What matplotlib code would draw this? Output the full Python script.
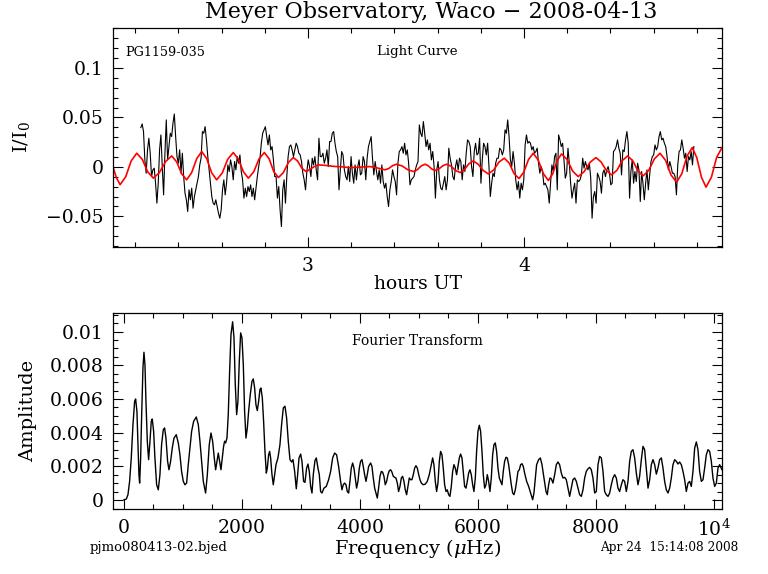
import matplotlib
matplotlib.use("Agg")
import matplotlib.pyplot as plt
import numpy as np
from matplotlib.ticker import MultipleLocator, FixedLocator, FixedFormatter

plt.rcParams['mathtext.fontset'] = 'dejavuserif'

# light curve: relative intensity in units of 1e-3, one point per exposure
obs_start = 2.226     # hours UT
cadence = 0.0062      # hours
lc_part1 = [39.7, 43.4, 35.7, 7.1, -6.4, 17.2, 29.0, 13.8, -9.8, -3.0,
            -1.3, -16.5, -36.7, -16.5, 17.2, 32.3, 0.3, -28.3, 13.8, 47.5,
            7.1, 20.5, 34.0, 30.6, 44.1, 53.5, 30.6, 10.4,
            3.7, 17.2, -6.4, 13.8, -9.8, -26.6, -33.3, -45.1, -23.2, -33.3,
            -21.5, -41.8, -30.0, -23.2, -16.5, -9.8, 2.0, 8.8, 35.7, 34.0,
            40.7, 27.3, 10.4, -3.0, -16.5, -30.0, -36.7, -38.4, -33.3, -40.1,
            -46.8, -51.9, -43.4, -23.2, -13.1, -28.3, -16.5, 2.0, -4.7, 7.1,
            0.3, -13.1, 5.4, -3.0, 10.4, 3.7, 12.1, -4.7, -13.1, -31.6,
            -21.5, -30.0, -19.9, -24.9, -18.2, -30.0, -21.5, -33.3, -21.5,
            -9.8, 0.3, 8.8, 23.9, 34.0, 37.4, 40.7, 30.6, 22.2, 32.3,
            17.2, 20.5, 7.1, -9.8]
lc_part2 = [-9.8, -31.6, -19.9, -43.4, -60.3, -23.2, -13.1, -36.7, -9.8, 10.4,
            20.5, 22.2, 17.2, 10.4, 17.2, 23.9, 20.5, 13.8, 12.1, 5.4,
            -6.4, -13.1, -23.2, -4.7, 7.1, 0.3, -9.8, 8.8, 2.0, 10.4,
            -3.0, -13.1, 29.0, 10.4, 10.4, 13.8, 3.7, 8.8, 17.2, 0.3,
            25.6, 25.6, 34.0, 35.7, 23.9, 15.5, 10.4, -23.2, -3.0, 15.5,
            12.1, -3.0, -9.8, -13.1, 0.3, -14.8, 10.4, -6.4, -16.5, 2.0,
            -13.1, 0.3, 7.1, -8.1, -6.4, 10.4, 5.4, -13.1, 8.8, 20.5,
            25.6, 30.6, 8.8, -8.1, 5.4, -4.7, -13.1, -3.0, -16.5, 2.0,
            -14.8, -21.5, -16.5, -30.0, -40.1, -23.2, -14.8, -3.0, -9.8, -14.8,
            -28.3, 3.7, 15.5, 17.2, 20.5, 13.8, 23.9, 12.1, 17.2, 3.7,
            -18.2, -13.1, -11.4, -9.8, -3.0, 2.0, 5.4, 42.4, 34.0]
lc_part3 = [30.6, 45.8, 34.0, 20.5, 27.3, 17.2, 23.9, 7.1, 15.5, 0.3,
            -31.6, -3.0, 5.4, -13.1, -21.5, -23.2, -16.5, -9.8, -23.2, -13.1,
            18.9, 8.8, 2.0, -9.8, -13.1, 0.3, 7.1, -3.0, 8.8, 5.4,
            -13.1, 2.0, -4.7, 13.8, 27.3, 25.6, 20.5, 0.3, -9.8, 15.5,
            23.9, 12.1, 13.8, 29.0, -16.5, 7.1, 23.9, 20.5, 12.1, 23.9,
            0.3, -30.0, -16.5, -6.4, -9.8, 3.7, 8.8, 8.8, 18.9, 17.2,
            12.1, 17.2, 37.4, 34.0, 47.5, 30.6, 7.1, 0.3, 15.5, 3.7,
            -13.1, -23.2, -14.8, -31.6, -16.5, -23.2, -13.1, 22.2, 32.3, 23.9,
            25.6, 23.9, 17.2, 20.5, 13.8, 15.5, 18.9, 3.7, -6.4, 0.3,
            -4.7, -18.2, -16.5, -19.9, -23.2, -36.7, -16.5, 2.0, -4.7, 10.4,
            13.8, -23.2, 32.3, 27.3, 20.5, 23.9, 7.1, -11.4]
lc_part4 = [-6.4, 18.9, 3.7, -16.5, -31.6, -23.2, -16.5, -36.7, -13.1, -14.8,
            -13.1, -8.1, 8.8, -1.3, 5.4, 0.3, -3.0, 3.7, -11.4, -51.9,
            -30.0, -24.9, -36.7, -6.4, -9.8, -14.8, -26.6, -6.4, -3.0, -9.8,
            -3.0, 0.3, -6.4, -18.2, -16.5, 15.5, 17.2, 20.5, 27.3, 18.9,
            13.8, -8.1, 17.2, 15.5, 27.3, 35.7, 23.9, -31.6, -4.7, 7.1,
            -16.5, -4.7, -14.8, 3.7, -3.0, -35.0, -4.7, -16.5, -33.3, -16.5,
            -3.0, -23.2, -8.1, 5.4, 10.4, 12.1, 22.2, 17.2, 20.5, 30.6,
            35.7, 27.3, 29.0, 23.9, 20.5, 10.4, -3.0, 5.4, 0.3, -6.4,
            -6.4, -9.8, -28.3, 2.0, 15.5, 17.2, 27.3, 18.9, 8.8, 13.8,
            -4.7, 10.4, 7.1, 15.5, 2.0, 20.5]

# multi-periodic fit, sampled (hours UT, 1e-3)
fit_time = [2.097, 2.113, 2.130, 2.156, 2.181, 2.207, 2.233, 2.258, 2.284, 2.312,
            2.341, 2.369, 2.392, 2.415, 2.438, 2.461, 2.485, 2.508, 2.531, 2.554,
            2.577, 2.603, 2.628, 2.654, 2.677, 2.701, 2.724, 2.749, 2.773, 2.798,
            2.820, 2.841, 2.863, 2.886, 2.909, 2.932, 2.952, 2.971, 2.991, 3.010,
            3.029, 3.048, 3.080, 3.120, 3.160, 3.194, 3.240, 3.287, 3.320, 3.356,
            3.374, 3.392, 3.410, 3.436, 3.462, 3.488, 3.506, 3.524, 3.542, 3.557,
            3.573, 3.588, 3.606, 3.624, 3.642, 3.663, 3.683, 3.704, 3.724, 3.745,
            3.765, 3.788, 3.812, 3.835, 3.860, 3.884, 3.909, 3.932, 3.954, 3.977,
            3.999, 4.021, 4.043, 4.066, 4.090, 4.113, 4.133, 4.154, 4.174, 4.200,
            4.225, 4.251, 4.278, 4.306, 4.333, 4.357, 4.382, 4.406, 4.431, 4.455,
            4.480, 4.504, 4.528, 4.552, 4.578, 4.604, 4.630, 4.656, 4.681, 4.707,
            4.731, 4.755, 4.779, 4.800, 4.822, 4.843, 4.868, 4.892, 4.917]
fit_milli = [0.0, -11.0, -18.0, -10.0, 5.9, 13.8, 7.5, -5.1, -11.4, -5.8,
             5.5, 11.1, 5.0, -7.0, -13.1, -6.0, 8.4, 15.5, 8.4, -6.0,
             -13.1, -6.2, 7.6, 14.5, 8.0, -4.9, -11.4, -4.9, 8.0, 14.5,
             8.2, -4.5, -10.8, -5.8, 4.4, 9.4, 5.9, -1.2, -4.7, -2.5,
             0.3, 2.0, 1.5, 0.5, 0.0, -0.8, -0.3, 0.3, -1.0, -3.0,
             -1.6, 1.3, 2.7, 0.9, -2.9, -4.7, -2.9, 0.9, 2.7, 1.1,
             -2.1, -3.7, -2.1, 1.1, 2.7, 0.6, -3.6, -5.7, -2.8, 3.1,
             6.0, 2.7, -3.8, -7.1, -3.1, 4.8, 8.8, 3.7, -6.7, -11.8,
             -5.4, 7.4, 13.8, 6.9, -6.9, -13.8, -7.1, 6.4, 13.1, 7.4,
             -4.1, -9.8, -5.0, 4.6, 9.4, 5.0, -3.7, -8.1, -3.3, 6.3,
             11.1, 6.1, -4.1, -9.1, -3.4, 8.1, 13.8, 6.5, -8.2, -15.5,
             -6.8, 10.8, 19.5, 9.5, -10.5, -20.5, -10.5, 9.5, 19.5]

# amplitude spectrum: frequency (muHz), amplitude (1e-3)
ft_freq = [0, 40, 68, 96, 124, 153, 181, 198, 220, 237,
           254, 266, 283, 299, 322, 339, 356, 373, 396, 418,
           441, 463, 480, 503, 525, 554, 582, 610, 638, 667,
           689, 712, 740, 763, 791, 819, 848, 887, 921, 949,
           977, 1006, 1034, 1062, 1090, 1119, 1147, 1181, 1226, 1260,
           1288, 1316, 1345, 1384, 1413, 1446, 1475, 1503, 1531, 1554,
           1576, 1599, 1622, 1644, 1667, 1689, 1706, 1723, 1746, 1768,
           1791, 1814, 1842, 1865, 1887, 1910, 1932, 1955, 1978, 2000,
           2023, 2045, 2068, 2091, 2113, 2141, 2170, 2192, 2215, 2237,
           2260, 2283, 2305, 2322, 2345, 2367, 2390, 2413, 2430, 2452,
           2469, 2486, 2509, 2531, 2554, 2577, 2610, 2644, 2672, 2701,
           2729, 2757, 2785, 2814, 2842, 2865, 2893, 2921, 2944, 2967,
           2995, 3017, 3045, 3068, 3096, 3119, 3141, 3164, 3187, 3209,
           3237, 3260, 3288,
           3311, 3333, 3356, 3390, 3429, 3469, 3503, 3537, 3571, 3604,
           3638, 3672, 3695, 3717, 3740, 3763, 3785, 3808, 3830, 3853,
           3876, 3898, 3921, 3943, 3966, 3989, 4011, 4034, 4056, 4079,
           4102, 4124, 4147, 4181, 4203, 4226, 4249, 4271, 4294, 4316,
           4339, 4362, 4384, 4407, 4429, 4452, 4475, 4497, 4520, 4542,
           4565, 4588, 4610, 4633, 4655, 4678, 4701, 4723, 4746, 4768,
           4791, 4814, 4836, 4859, 4881, 4904, 4927, 4949, 4972, 4994,
           5017, 5040, 5073, 5107, 5141, 5175, 5209, 5232, 5254, 5277,
           5299, 5322, 5345, 5367, 5390, 5412, 5435, 5458, 5480, 5503,
           5525, 5548, 5571, 5593, 5616, 5638, 5661, 5684, 5706, 5729,
           5751, 5774, 5797, 5819, 5842, 5864, 5887, 5910, 5932, 5955,
           5977, 6000, 6023, 6045, 6068, 6090, 6113, 6136, 6158, 6181,
           6203, 6226, 6249, 6271, 6294, 6316, 6339, 6362, 6384, 6407,
           6429, 6452, 6475, 6497, 6520, 6542, 6565, 6588, 6610, 6633,
           6655, 6678,
           6701, 6723, 6746, 6768, 6791, 6825, 6859, 6893, 6927, 6949,
           6972, 6994, 7028, 7057, 7085, 7119, 7153, 7175, 7198, 7220,
           7243, 7271, 7300, 7328, 7356, 7384, 7413, 7441, 7469, 7497,
           7526, 7554, 7582, 7610, 7639, 7667, 7695, 7723, 7752, 7780,
           7808, 7836, 7865, 7893, 7921, 7949, 7978, 8006, 8034, 8062,
           8091, 8119, 8147, 8175, 8204, 8232, 8260, 8288, 8317, 8345,
           8373, 8401, 8430, 8458, 8486, 8514, 8543, 8571, 8599, 8627,
           8656, 8684, 8712, 8740, 8769, 8797, 8825, 8853, 8882, 8910,
           8938, 8966, 8995, 9023, 9051, 9079, 9108, 9136, 9164, 9192,
           9221, 9249, 9277, 9305, 9334, 9362, 9390, 9418, 9447, 9475,
           9503, 9531, 9560, 9588, 9616, 9644, 9673, 9701, 9729, 9757,
           9786, 9814, 9842, 9870, 9899, 9927, 9955, 9983, 10012, 10040,
           10068, 10096, 10136]
ft_amp = [0.02, 0.06, 0.32, 1.11, 2.50, 4.48, 5.86, 6.00, 5.27, 3.29,
          1.51, 1.01, 2.50, 4.87, 7.84, 8.77, 8.04, 5.86, 3.49, 2.40,
          3.49, 4.67, 4.81, 4.08, 2.50, 0.91, 0.61, 1.51, 3.29, 4.18,
          4.28, 3.68, 2.30, 1.80, 2.30, 3.09, 3.68, 3.88, 3.39, 2.69,
          1.70, 1.11, 0.91, 1.01, 2.10, 3.09, 4.08, 4.67, 4.93, 4.48,
          3.49, 2.30, 1.11, 0.42, 1.51, 3.29, 3.98, 3.49, 2.50, 1.80,
          2.30, 2.79, 2.30, 1.80, 2.50, 3.19, 3.49, 3.39, 3.68, 5.07,
          7.65, 9.82, 10.58, 9.63, 6.85, 5.07, 5.86, 8.24, 9.92, 9.63,
          8.04, 5.27, 3.68, 4.28, 5.27, 6.26, 7.05, 7.19, 6.65, 5.66,
          5.31, 5.86, 6.56, 6.65, 6.06, 4.67, 2.89, 1.60, 1.90, 2.69,
          2.89, 2.50, 1.51, 0.91, 1.51, 2.10, 2.50, 3.29, 4.48, 5.47,
          5.57, 4.87, 3.49, 2.40, 2.26, 2.40, 1.70, 0.67, 1.51, 2.50,
          2.73, 2.30, 1.11, 1.05, 1.90, 2.14, 1.70, 0.81, 0.42, 1.51,
          2.34, 2.50, 1.90,
          1.51, 0.51, 0.42, 0.71, 0.81, 1.21, 1.70, 2.50, 2.79, 2.69,
          2.00, 1.11, 0.61, 0.91, 1.01, 0.91, 0.51, 0.42, 1.11, 1.90,
          2.20, 1.90, 1.31, 0.71, 1.11, 1.90, 2.30, 2.40, 2.00, 1.51,
          1.11, 1.51, 2.00, 2.20, 2.00, 1.31, 0.71, 0.42, 0.12, 0.71,
          1.41, 1.70, 1.66, 1.41, 0.91, 1.11, 1.51, 1.74, 1.80, 1.66,
          1.41, 1.35, 1.31, 1.01, 0.51, 0.81, 1.31, 1.41, 1.11, 0.61,
          0.32, 0.81, 1.31, 1.21, 1.21, 1.51, 1.90, 2.04, 1.90, 1.54,
          1.21, 1.01, 0.91, 0.95, 1.11, 1.51, 2.10, 2.50, 2.10, 1.11,
          0.51, 1.01, 2.30, 2.89, 2.69, 1.90, 0.91, 0.51, 0.61, 0.32,
          0.22, 0.81, 1.70, 2.10, 1.90, 1.51, 2.00, 2.50, 2.73, 2.50,
          1.70, 0.81, 0.71, 1.11, 1.60, 1.80, 1.51, 0.91, 0.51, 1.31,
          2.89, 4.08, 4.44, 4.08, 2.89, 1.51, 0.71, 0.91, 1.51, 1.11,
          0.51, 1.31, 2.69, 3.29, 3.39, 2.89, 1.90, 1.31, 1.11, 0.91,
          1.70, 2.30, 2.54, 2.50, 2.10, 1.51, 0.91, 0.42, 0.32, 0.61,
          1.11, 1.70,
          1.80, 2.10, 2.16, 2.00, 1.60, 1.11, 0.81, 0.42, 0.02, 0.42,
          1.31, 2.10, 2.40, 2.50, 2.10, 1.31, 0.51, 0.32, 0.91, 1.31,
          1.27, 1.01, 1.51, 2.10, 2.26, 2.10, 1.60, 1.31, 1.35, 1.21,
          0.71, 0.22, 0.71, 1.21, 1.31, 1.11, 0.71, 0.32, 0.22, 0.61,
          1.31, 1.70, 1.86, 1.94, 1.80, 1.31, 0.42, 0.51, 2.10, 2.59,
          2.50, 1.70, 0.51, 0.32, 0.22, 0.42, 0.91, 1.31, 1.51, 1.31,
          0.71, 0.51, 0.91, 1.21, 1.11, 0.51, 1.11, 2.30, 2.89, 2.99,
          2.50, 1.60, 0.91, 1.41, 2.40, 3.19, 2.99, 1.90, 0.71, 1.21,
          2.10, 2.40, 2.10, 1.54, 1.90, 2.40, 2.50, 1.90, 1.11, 0.61,
          0.42, 0.71, 1.31, 2.10, 2.40, 2.30, 2.14, 2.26, 2.10, 1.70,
          1.21, 0.51, 1.01, 1.11, 0.81, 1.70, 3.09, 3.45, 2.99, 1.70,
          1.11, 1.21, 1.90, 2.69, 2.99, 2.89, 2.30, 1.31, 0.81, 1.01,
          1.90, 2.10, 1.80]

freq_ticks = [0, 2000, 4000, 6000, 8000, 10000]
freq_labels = ['0', '2000', '4000', '6000', '8000', r'$10^4$']

flux = np.array(lc_part1 + lc_part2 + lc_part3 + lc_part4) / 1000.0
hours = obs_start + cadence * np.arange(len(flux))
fit = np.array(fit_milli) / 1000.0
amp = np.array(ft_amp) / 1000.0

serif = 'DejaVu Serif'
fig = plt.figure(figsize=(7.68, 5.74), dpi=100)
ax1 = fig.add_axes([0.1471, 0.5697, 0.793, 0.3815])
ax2 = fig.add_axes([0.1471, 0.1132, 0.793, 0.3415])

ax1.plot(hours, flux, color='black', lw=0.8)
ax1.plot(fit_time, fit, color='#ff0000', lw=1.2)
ax1.set_xlim(2.097, 4.917)
ax1.set_ylim(-0.081, 0.1404)
ax1.xaxis.set_major_locator(MultipleLocator(1))
ax1.xaxis.set_minor_locator(MultipleLocator(0.2))
ax1.yaxis.set_major_locator(MultipleLocator(0.05))
ax1.yaxis.set_minor_locator(MultipleLocator(0.01))
ax1.set_yticks([-0.05, 0, 0.05, 0.1])
ax1.set_yticklabels(['\u22120.05', '0', '0.05', '0.1'])
ax1.set_xticks([3, 4])
ax1.set_xticklabels(['3', '4'])
ax1.text(0.02, 0.89, 'PG1159-035', transform=ax1.transAxes, family=serif,
         fontsize=9.2, va='center')
ax1.text(0.433, 0.893, 'Light Curve', transform=ax1.transAxes, family=serif,
         fontsize=9.6, va='center')

ax2.plot(ft_freq, amp, color='black', lw=1.0)
ax2.set_xlim(-186, 10136)
ax2.set_ylim(-0.00053, 0.0111)
ax2.xaxis.set_major_locator(FixedLocator(freq_ticks))
ax2.xaxis.set_major_formatter(FixedFormatter(freq_labels))
ax2.xaxis.set_minor_locator(MultipleLocator(500))
ax2.yaxis.set_major_locator(MultipleLocator(0.002))
ax2.yaxis.set_minor_locator(MultipleLocator(0.0005))
ax2.set_yticks([0, 0.002, 0.004, 0.006, 0.008, 0.01])
ax2.set_yticklabels(['0', '0.002', '0.004', '0.006', '0.008', '0.01'])
ax2.text(0.392, 0.857, 'Fourier Transform', transform=ax2.transAxes,
         family=serif, fontsize=10, va='center')

for ax in (ax1, ax2):
    ax.tick_params(which='both', direction='in', top=True, right=True,
                   width=0.8, labelsize=13.5, colors='black', pad=7)
    ax.tick_params(which='major', length=7)
    ax.tick_params(which='minor', length=3.5)
    for lab in ax.get_xticklabels() + ax.get_yticklabels():
        lab.set_family(serif)
    for sp in ax.spines.values():
        sp.set_linewidth(0.9)

fig.text(0.561, 0.979, 'Meyer Observatory, Waco \u2212 2008-04-13',
         family=serif, fontsize=16, ha='center', va='center')
fig.text(417.5 / 768, 1 - 284 / 574, 'hours UT', family=serif, fontsize=13.5,
         ha='center', va='center')
fig.text(417.5 / 768, 1 - 549 / 574, r'Frequency ($\mu$Hz)', family=serif,
         fontsize=14, ha='center', va='center')
fig.text(28 / 768, 1 - 411 / 574, 'Amplitude', family=serif, fontsize=14,
         rotation=90, ha='center', va='center')
fig.text(22 / 768, 1 - 137 / 574, r'I/I$_0$', family=serif, fontsize=14,
         rotation=90, ha='center', va='center')
fig.text(90 / 768, 1 - 548 / 574, 'pjmo080413-02.bjed', family=serif,
         fontsize=9.5, ha='left', va='center')
fig.text(738 / 768, 1 - 548 / 574, 'Apr 24  15:14:08 2008', family=serif,
         fontsize=8.7, ha='right', va='center')

fig.savefig('out.png', dpi=100)
